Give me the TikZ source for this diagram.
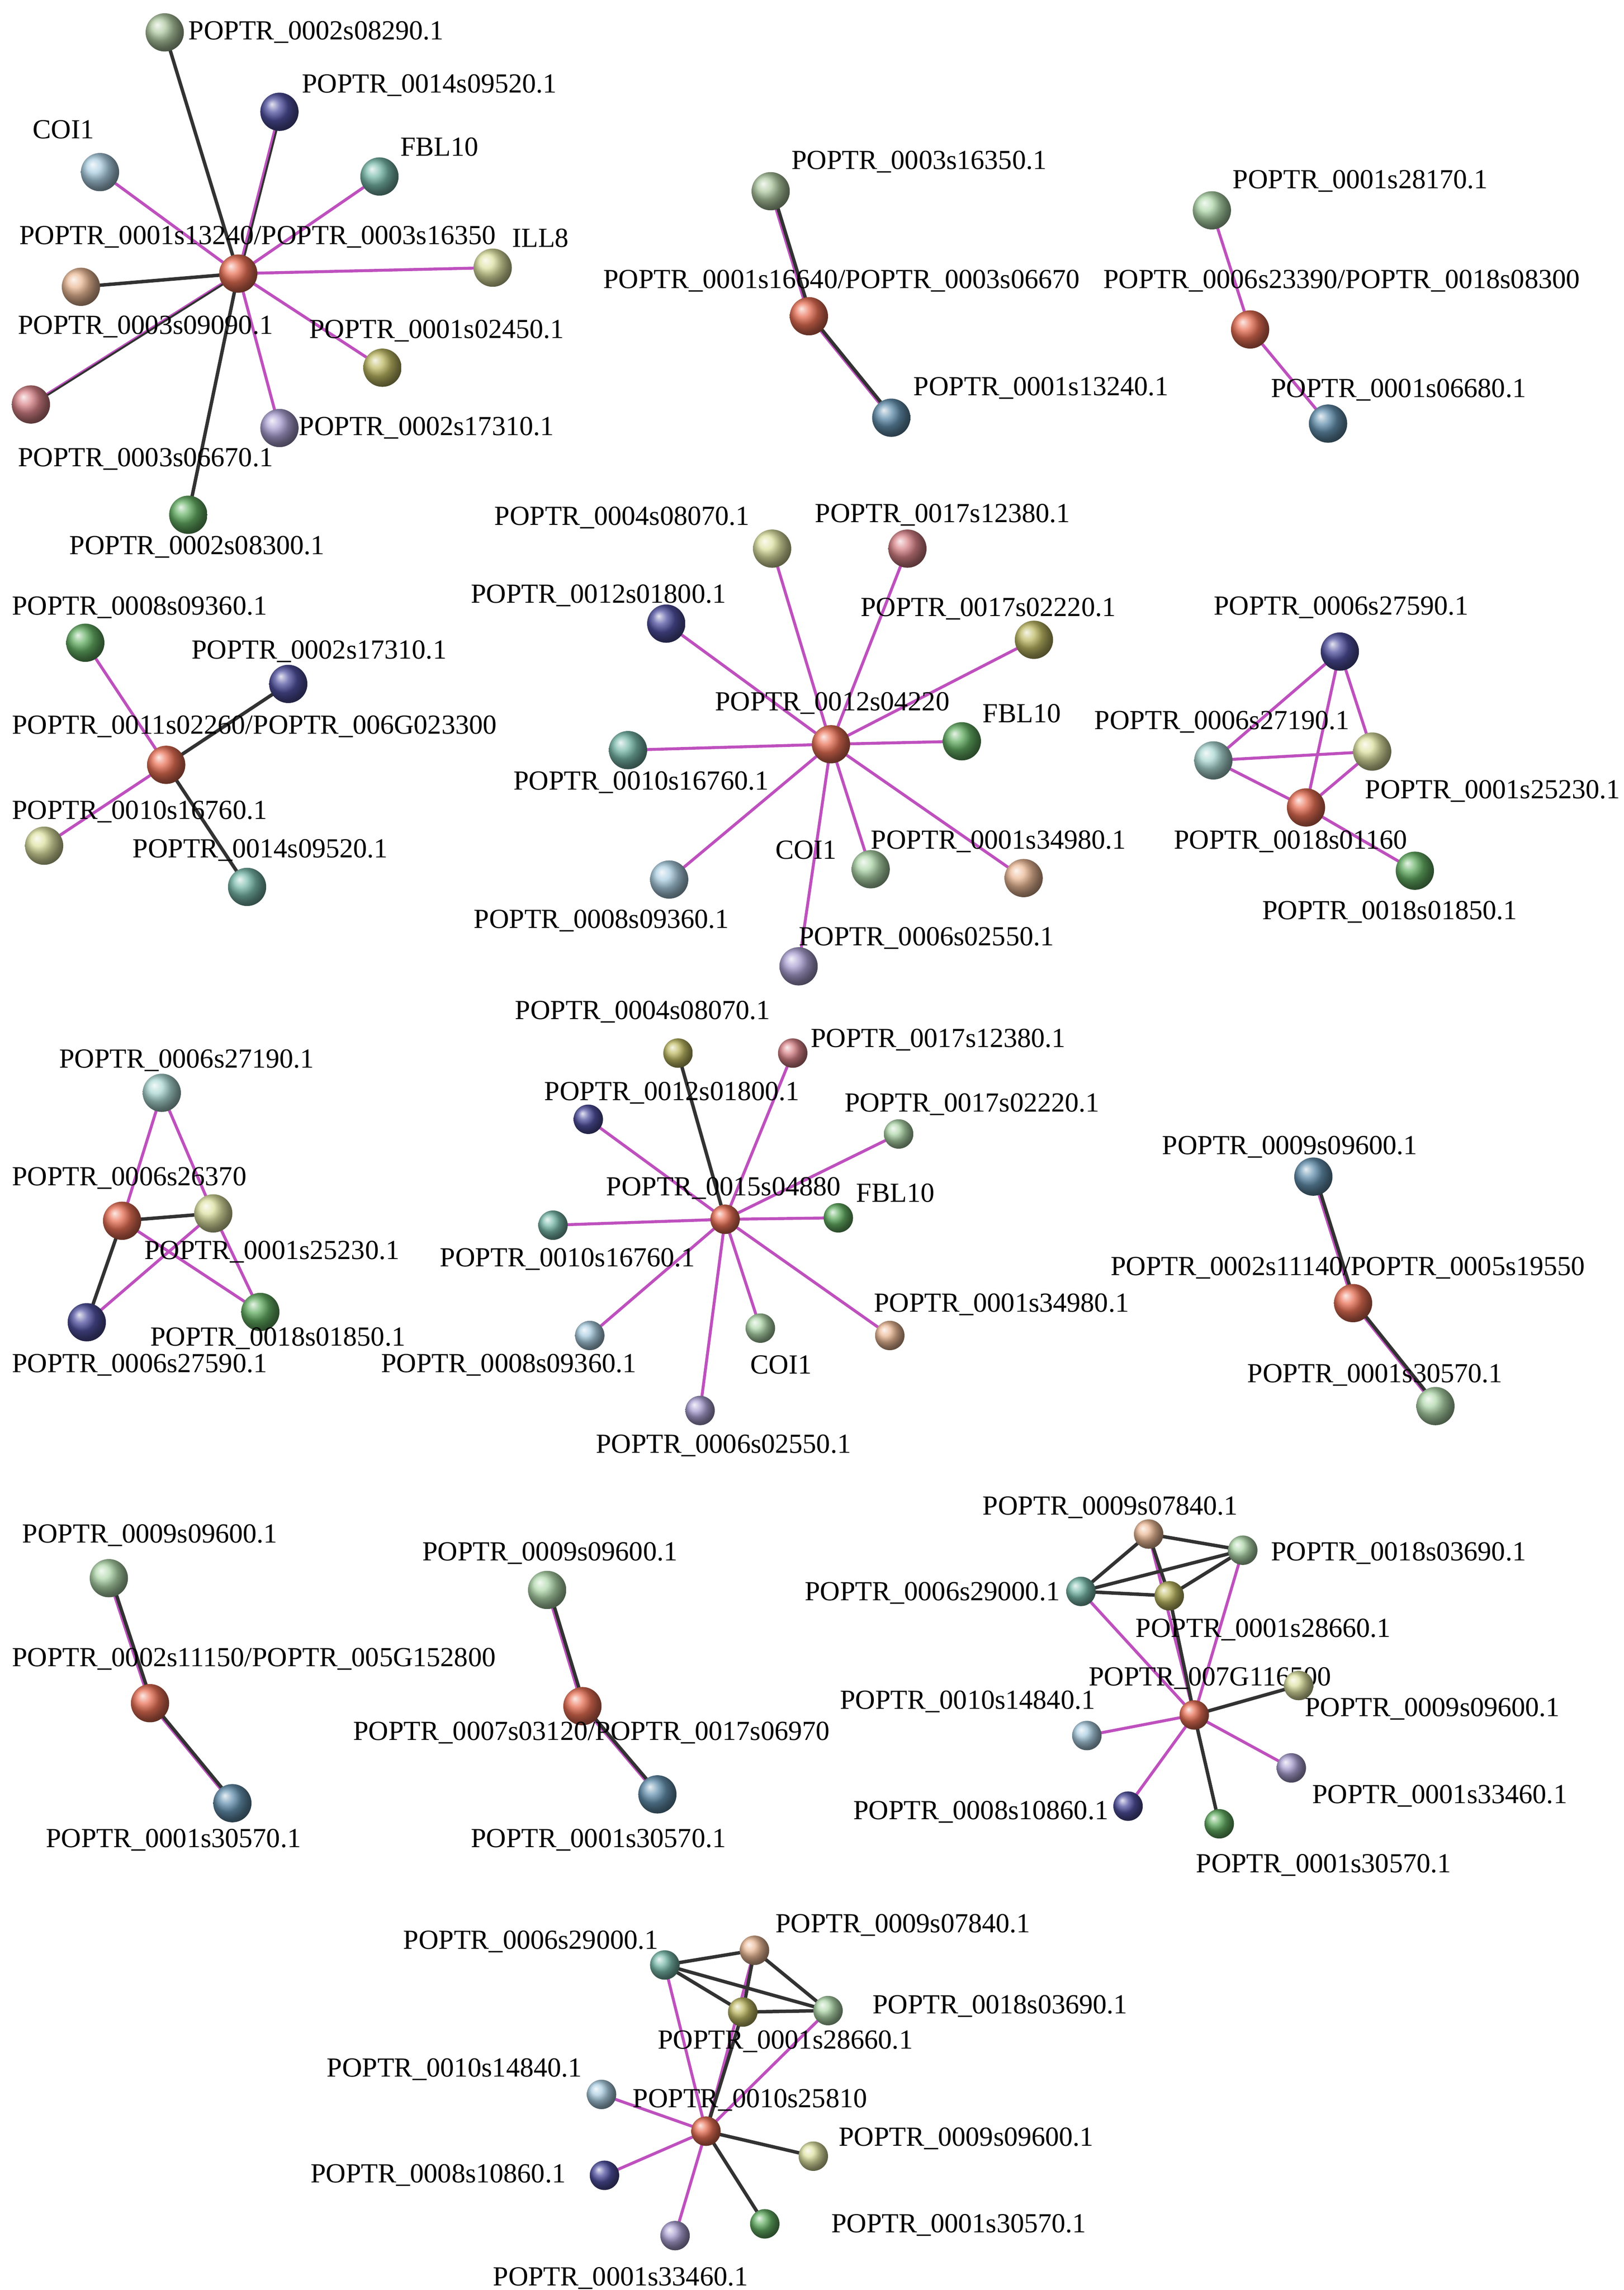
\documentclass[tikz,border=0pt]{standalone}
\usepackage{fontspec}
\setmainfont{Liberation Serif}
\usetikzlibrary{backgrounds}
\definecolor{mag}{RGB}{190,80,190}
\definecolor{dk}{RGB}{50,50,50}
\definecolor{cOr}{RGB}{232,112,85}
\definecolor{cGg}{RGB}{175,200,160}
\definecolor{cDb}{RGB}{80,80,160}
\definecolor{cLb}{RGB}{170,205,225}
\definecolor{cTe}{RGB}{120,185,170}
\definecolor{cPy}{RGB}{220,225,160}
\definecolor{cPe}{RGB}{235,185,150}
\definecolor{cOl}{RGB}{190,185,100}
\definecolor{cPk}{RGB}{215,130,135}
\definecolor{cLa}{RGB}{170,160,210}
\definecolor{cGr}{RGB}{100,175,100}
\definecolor{cSt}{RGB}{100,145,175}
\definecolor{cLg}{RGB}{175,215,170}
\definecolor{cLt}{RGB}{170,215,210}
\tikzset{
 b/.style={circle,inner sep=0pt,minimum size=0.78cm,shading=ball,ball color=#1},
 s/.style={circle,inner sep=0pt,minimum size=0.6cm,shading=ball,ball color=#1},
 l/.style={anchor=west,inner sep=0pt,font=\fontsize{16}{18}\selectfont},
 m/.style={draw=mag,line width=0.6mm},
 d/.style={draw=dk,line width=0.7mm},
}
\begin{document}
\begin{tikzpicture}[x=0.03cm,y=-0.03cm]
\useasboundingbox (0,0) rectangle (1104,1557);
% cluster 1
\node[b=cOr] (c1) at (162,186) {};
\node[b=cGg] (a1) at (112,22) {}; \node[l] (la1) at (128,22) {POPTR\_0002s08290.1};
\node[b=cDb] (a2) at (190,76) {}; \node[l] (la2) at (205,58) {POPTR\_0014s09520.1};
\node[b=cLb] (a3) at (68,117) {}; \node[l] (la3) at (22,88) {COI1};
\node[b=cTe] (a4) at (258,120) {}; \node[l] (la4) at (272,100) {FBL10};
\node[b=cPy] (a5) at (335,182) {}; \node[l] (la5) at (348,162) {ILL8};
\node[b=cPe] (a6) at (55,195) {}; \node[l] (la6) at (12,222) {POPTR\_0003s09090.1};
\node[b=cOl] (a7) at (260,250) {}; \node[l] (la7) at (210,225) {POPTR\_0001s02450.1};
\node[b=cPk] (a8) at (21,275) {}; \node[l] (la8) at (12,312) {POPTR\_0003s06670.1};
\node[b=cLa] (a9) at (190,291) {}; \node[l] (la9) at (203,291) {POPTR\_0002s17310.1};
\node[b=cGr] (a10) at (128,350) {}; \node[l] (la10) at (47,372) {POPTR\_0002s08300.1};
\node[l] (lc1) at (13,161) {POPTR\_0001s13240/POPTR\_0003s16350};
% cluster 2
\node[b=cOr] (c2) at (550,215) {}; \node[l] (lc2) at (410,191) {POPTR\_0001s16640/POPTR\_0003s06670};
\node[b=cGg] (b1) at (524,130) {}; \node[l] (lb1) at (538,110) {POPTR\_0003s16350.1};
\node[b=cSt] (b2) at (606,284) {}; \node[l] (lb2) at (621,264) {POPTR\_0001s13240.1};
% cluster 3
\node[b=cOr] (c3) at (850,224) {}; \node[l] (lc3) at (750,191) {POPTR\_0006s23390/POPTR\_0018s08300};
\node[b=cLg] (d1) at (824,143) {}; \node[l] (ld1) at (838,123) {POPTR\_0001s28170.1};
\node[b=cSt] (d2) at (903,288) {}; \node[l] (ld2) at (864,265) {POPTR\_0001s06680.1};
% cluster 4
\node[b=cOr] (c4) at (113,520) {}; \node[l] (lc4) at (8,494) {POPTR\_0011s02260/POPTR\_006G023300};
\node[b=cGr] (e1) at (58,437) {}; \node[l] (le1) at (8,413) {POPTR\_0008s09360.1};
\node[b=cDb] (e2) at (196,465) {}; \node[l] (le2) at (130,443) {POPTR\_0002s17310.1};
\node[b=cPy] (e3) at (30,575) {}; \node[l] (le3) at (8,552) {POPTR\_0010s16760.1};
\node[b=cTe] (e4) at (168,603) {}; \node[l] (le4) at (90,578) {POPTR\_0014s09520.1};
% cluster 5
\node[b=cOr] (c5) at (565,506) {}; \node[l] (lc5) at (486,478) {POPTR\_0012s04220};
\node[b=cPy] (f1) at (525,373) {}; \node[l] (lf1) at (336,352) {POPTR\_0004s08070.1};
\node[b=cPk] (f2) at (617,373) {}; \node[l] (lf2) at (554,350) {POPTR\_0017s12380.1};
\node[b=cDb] (f3) at (453,424) {}; \node[l] (lf3) at (320,405) {POPTR\_0012s01800.1};
\node[b=cOl] (f4) at (703,435) {}; \node[l] (lf4) at (585,414) {POPTR\_0017s02220.1};
\node[b=cGr] (f5) at (654,504) {}; \node[l] (lf5) at (668,485) {FBL10};
\node[b=cTe] (f6) at (427,510) {}; \node[l] (lf6) at (349,532) {POPTR\_0010s16760.1};
\node[b=cLb] (f7) at (455,598) {}; \node[l] (lf7) at (322,626) {POPTR\_0008s09360.1};
\node[b=cLg] (f8) at (592,591) {}; \node[l] (lf8) at (527,578) {COI1};
\node[b=cPe] (f9) at (696,597) {}; \node[l] (lf9) at (592,572) {POPTR\_0001s34980.1};
\node[b=cLa] (f10) at (543,657) {}; \node[l] (lf10) at (543,638) {POPTR\_0006s02550.1};
% cluster 6
\node[b=cOr] (c6) at (888,549) {}; \node[l] (lc6) at (798,572) {POPTR\_0018s01160};
\node[b=cDb] (g1) at (911,443) {}; \node[l] (lg1) at (825,413) {POPTR\_0006s27590.1};
\node[b=cLt] (g2) at (825,517) {}; \node[l] (lg2) at (744,491) {POPTR\_0006s27190.1};
\node[b=cPy] (g3) at (933,511) {}; \node[l] (lg3) at (928,538) {POPTR\_0001s25230.1};
\node[b=cGr] (g4) at (962,592) {}; \node[l] (lg4) at (858,620) {POPTR\_0018s01850.1};
% cluster 7
\node[b=cOr] (c7) at (83,830) {}; \node[l] (lc7) at (8,801) {POPTR\_0006s26370};
\node[b=cLt] (h1) at (110,743) {}; \node[l] (lh1) at (40,721) {POPTR\_0006s27190.1};
\node[b=cPy] (h2) at (145,825) {}; \node[l] (lh2) at (98,851) {POPTR\_0001s25230.1};
\node[b=cDb] (h3) at (59,899) {}; \node[l] (lh3) at (8,928) {POPTR\_0006s27590.1};
\node[b=cGr] (h4) at (177,892) {}; \node[l] (lh4) at (102,910) {POPTR\_0018s01850.1};
% cluster 8
\node[s=cOr] (c8) at (493,829) {}; \node[l] (lc8) at (412,808) {POPTR\_0015s04880};
\node[s=cOl] (i1) at (461,716) {}; \node[l] (li1) at (350,688) {POPTR\_0004s08070.1};
\node[s=cPk] (i2) at (539,716) {}; \node[l] (li2) at (551,707) {POPTR\_0017s12380.1};
\node[s=cDb] (i3) at (400,761) {}; \node[l] (li3) at (370,743) {POPTR\_0012s01800.1};
\node[s=cLg] (i4) at (611,771) {}; \node[l] (li4) at (574,751) {POPTR\_0017s02220.1};
\node[s=cGr] (i5) at (570,828) {}; \node[l] (li5) at (582,811) {FBL10};
\node[s=cTe] (i6) at (376,833) {}; \node[l] (li6) at (299,856) {POPTR\_0010s16760.1};
\node[s=cLb] (i7) at (401,908) {}; \node[l] (li7) at (259,928) {POPTR\_0008s09360.1};
\node[s=cLg] (i8) at (517,903) {}; \node[l] (li8) at (510,928) {COI1};
\node[s=cPe] (i9) at (605,908) {}; \node[l] (li9) at (594,887) {POPTR\_0001s34980.1};
\node[s=cLa] (i10) at (476,959) {}; \node[l] (li10) at (405,983) {POPTR\_0006s02550.1};
% cluster 9
\node[b=cOr] (c9) at (920,886) {}; \node[l] (lc9) at (755,862) {POPTR\_0002s11140/POPTR\_0005s19550};
\node[b=cSt] (j1) at (893,800) {}; \node[l] (lj1) at (790,780) {POPTR\_0009s09600.1};
\node[b=cLg] (j2) at (976,956) {}; \node[l] (lj2) at (848,935) {POPTR\_0001s30570.1};
% cluster 10
\node[b=cOr] (c10) at (102,1158) {}; \node[l] (lc10) at (8,1128) {POPTR\_0002s11150/POPTR\_005G152800};
\node[b=cLg] (k1) at (74,1073) {}; \node[l] (lk1) at (15,1044) {POPTR\_0009s09600.1};
\node[b=cSt] (k2) at (158,1226) {}; \node[l] (lk2) at (31,1251) {POPTR\_0001s30570.1};
% cluster 11
\node[b=cOr] (c11) at (396,1160) {}; \node[l] (lc11) at (240,1178) {POPTR\_0007s03120/POPTR\_0017s06970};
\node[b=cLg] (m1) at (372,1081) {}; \node[l] (lm1) at (287,1056) {POPTR\_0009s09600.1};
\node[b=cSt] (m2) at (447,1220) {}; \node[l] (lm2) at (320,1251) {POPTR\_0001s30570.1};
% cluster 12
\node[s=cOr] (c12) at (812,1166) {}; \node[l] (lc12) at (740,1141) {POPTR\_007G116500};
\node[s=cPe] (n1) at (781,1043) {}; \node[l] (ln1) at (668,1025) {POPTR\_0009s07840.1};
\node[s=cLg] (n2) at (845,1054) {}; \node[l] (ln2) at (864,1056) {POPTR\_0018s03690.1};
\node[s=cTe] (n3) at (735,1082) {}; \node[l] (ln3) at (547,1083) {POPTR\_0006s29000.1};
\node[s=cOl] (n4) at (795,1085) {}; \node[l] (ln4) at (772,1108) {POPTR\_0001s28660.1};
\node[s=cPy] (n5) at (883,1146) {}; \node[l] (ln5) at (887,1162) {POPTR\_0009s09600.1};
\node[s=cLb] (n6) at (739,1180) {}; \node[l] (ln6) at (571,1157) {POPTR\_0010s14840.1};
\node[s=cLa] (n7) at (878,1202) {}; \node[l] (ln7) at (892,1221) {POPTR\_0001s33460.1};
\node[s=cDb] (n8) at (767,1228) {}; \node[l] (ln8) at (580,1232) {POPTR\_0008s10860.1};
\node[s=cGr] (n9) at (829,1240) {}; \node[l] (ln9) at (813,1268) {POPTR\_0001s30570.1};
% cluster 13
\node[s=cOr] (c13) at (480,1449) {}; \node[l] (lc13) at (430,1428) {POPTR\_0010s25810};
\node[s=cPe] (o1) at (513,1326) {}; \node[l] (lo1) at (527,1309) {POPTR\_0009s07840.1};
\node[s=cTe] (o2) at (452,1336) {}; \node[l] (lo2) at (274,1320) {POPTR\_0006s29000.1};
\node[s=cOl] (o3) at (505,1368) {}; \node[l] (lo3) at (447,1388) {POPTR\_0001s28660.1};
\node[s=cLg] (o4) at (563,1367) {}; \node[l] (lo4) at (593,1364) {POPTR\_0018s03690.1};
\node[s=cLb] (o5) at (409,1424) {}; \node[l] (lo5) at (222,1407) {POPTR\_0010s14840.1};
\node[s=cPy] (o6) at (553,1466) {}; \node[l] (lo6) at (570,1454) {POPTR\_0009s09600.1};
\node[s=cDb] (o7) at (411,1479) {}; \node[l] (lo7) at (211,1479) {POPTR\_0008s10860.1};
\node[s=cGr] (o8) at (520,1512) {}; \node[l] (lo8) at (565,1513) {POPTR\_0001s30570.1};
\node[s=cLa] (o9) at (459,1520) {}; \node[l] (lo9) at (335,1549) {POPTR\_0001s33460.1};
\begin{pgfonlayer}{background}
\foreach \n in {a3,a4,a5,a7,a9} \draw[m] (c1.center) -- (\n.center);
\foreach \n in {a1,a6,a10} \draw[d] (c1.center) -- (\n.center);
\foreach \n in {a2,a8} {\draw[m] (c1.center) -- (\n.center); \draw[d,line width=0.4mm] ([xshift=1pt]c1.center) -- ([xshift=1pt]\n.center);}
\foreach \n in {b1,b2} {\draw[m] (c2.center) -- (\n.center); \draw[d] ([xshift=1.2pt]c2.center) -- ([xshift=1.2pt]\n.center);}
\foreach \n in {d1,d2} \draw[m] (c3.center) -- (\n.center);
\foreach \n in {e1,e3} \draw[m] (c4.center) -- (\n.center);
\foreach \n in {e2,e4} \draw[d] (c4.center) -- (\n.center);
\foreach \n in {f1,f2,f3,f4,f5,f6,f7,f8,f9,f10} \draw[m] (c5.center) -- (\n.center);
\foreach \a/\b in {c6/g1,c6/g2,c6/g3,c6/g4,g1/g3,g2/g3,g1/g2} \draw[m] (\a.center) -- (\b.center);
\foreach \a/\b in {c7/h1,h1/h2,c7/h4,h2/h3,h2/h4} \draw[m] (\a.center) -- (\b.center);
\foreach \a/\b in {c7/h2,c7/h3} \draw[d] (\a.center) -- (\b.center);
\foreach \n in {i2,i3,i4,i5,i6,i7,i8,i9,i10} \draw[m] (c8.center) -- (\n.center);
\draw[d] (c8.center) -- (i1.center);
\foreach \n in {j1,j2} {\draw[m] (c9.center) -- (\n.center); \draw[d] ([xshift=1.2pt]c9.center) -- ([xshift=1.2pt]\n.center);}
\foreach \n in {k1,k2} {\draw[m] (c10.center) -- (\n.center); \draw[d] ([xshift=1.2pt]c10.center) -- ([xshift=1.2pt]\n.center);}
\foreach \n in {m1,m2} {\draw[m] (c11.center) -- (\n.center); \draw[d] ([xshift=1.2pt]c11.center) -- ([xshift=1.2pt]\n.center);}
\foreach \n in {n1,n2,n3,n6,n7,n8} \draw[m] (c12.center) -- (\n.center);
\foreach \n in {n4,n5,n9} \draw[d] (c12.center) -- (\n.center);
\foreach \a/\b in {n1/n2,n3/n1,n3/n4,n3/n2,n4/n2,n1/n4} \draw[d] (\a.center) -- (\b.center);
\foreach \n in {o1,o2,o4,o5,o7,o9} \draw[m] (c13.center) -- (\n.center);
\foreach \n in {o3,o6,o8} \draw[d] (c13.center) -- (\n.center);
\foreach \a/\b in {o1/o4,o2/o1,o2/o3,o2/o4,o3/o4,o1/o3} \draw[d] (\a.center) -- (\b.center);
\end{pgfonlayer}
\end{tikzpicture}
\end{document}
